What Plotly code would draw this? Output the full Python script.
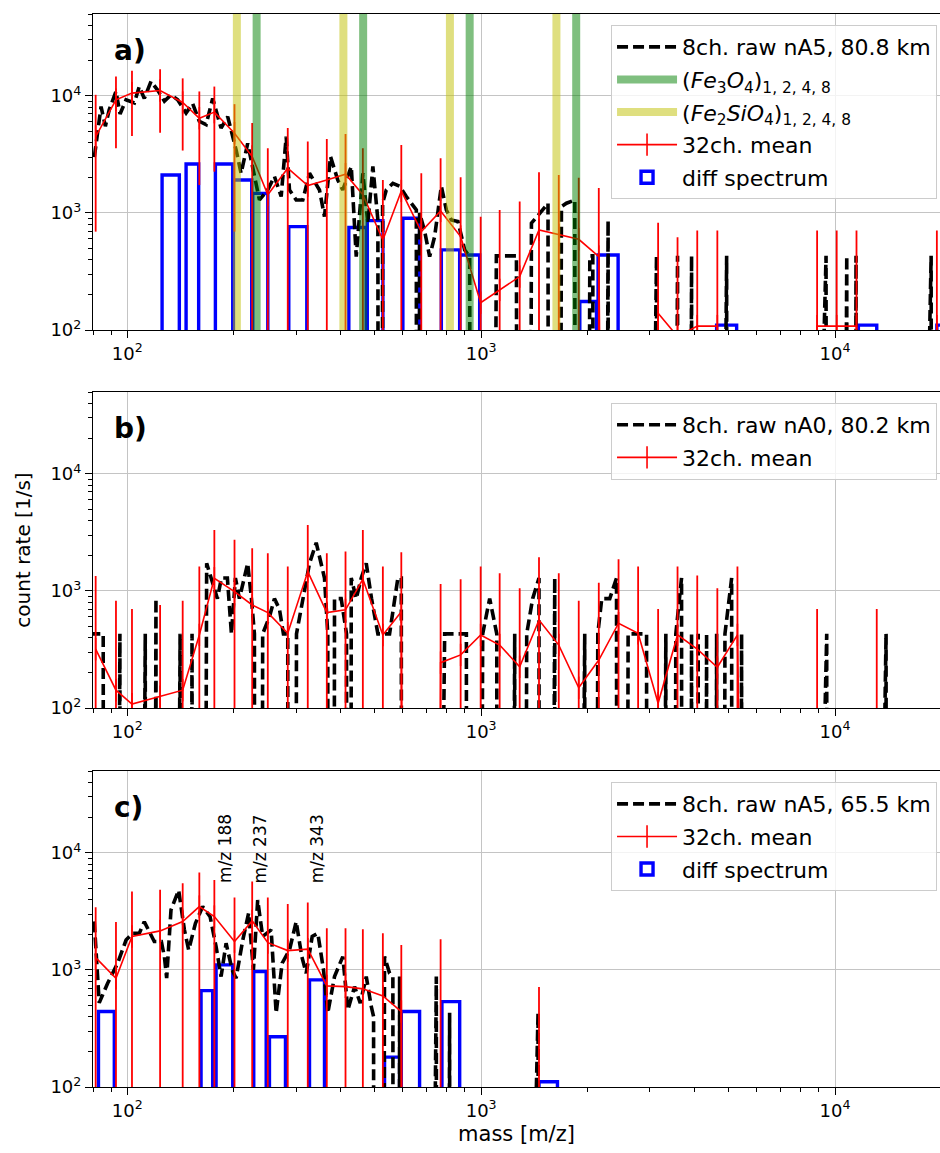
import math
import plotly.graph_objects as go

# ---------------- data ----------------
# 32-channel mean mass grid (m/z)
M32 = [81.4, 92.9, 103.1, 123.8, 143.4, 159.8, 176.2, 200.9, 225.4, 249.5, 284.1, 323.6,
       366.3, 413.7, 463.1, 527.5, 594.8, 677.4, 768.1, 875.0, 996.8, 1128, 1285, 1457,
       1657, 1887, 2150, 2445, 2777, 3163, 3589, 4080, 4650, 5300, 6045, 6878, 7800,
       8900, 10110, 11500, 13120, 14950, 17025, 19400]

# panel a: 32ch mean, upper and lower error limits (0 = below axis)
A_MEAN = [4490, 9250, 10550, 11100, 8770, 6440, 7260, 4800, 3030, 1430, 2410, 1710, 1910,
          2140, 1430, 587, 1540, 692, 1040, 628, 171, 220, 286, 716, 649, 595, 424, 0, 0,
          139, 88, 108, 108, 0, 0, 0, 0, 108, 108, 108, 0, 0, 0, 108]
A_HI = [10200, 14600, 16400, 16900, 14100, 10900, 12000, 8490, 5850, 3570, 5300, 4070, 4270,
        4730, 3570, 1910, 3810, 2180, 2930, 2020, 929, 1060, 1250, 2230, 2110, 2000, 1630, 0, 0,
        826, 619, 706, 706, 0, 0, 0, 0, 706, 706, 706, 0, 0, 0, 706]
A_LO = [692, 3570, 4550, 4850, 3410, 1730, 2250, 692] + [0] * 36

B_MEAN = [318, 142, 108, 125, 142, 421, 1283, 987, 759, 653, 435, 1462, 653, 689, 1259, 421,
          665, 0, 244, 284, 421, 345, 225, 565, 345, 149, 257, 530, 435, 110, 421, 318, 223,
          421, 0, 0, 0, 50, 0, 0, 50, 0, 0, 0]
B_HI = [1343, 826, 702, 759, 826, 1614, 3320, 2730, 2320, 2100, 1614, 3660, 2100, 2170, 3320,
        1614, 2140, 0, 1148, 1259, 1614, 1416, 1055, 1942, 1416, 826, 1177, 1866, 1614, 702,
        1614, 1352, 1055, 1614, 0, 0, 0, 702, 0, 0, 702, 0, 0, 0]
B_LO = [0] * 44

C_MEAN = [1274, 849, 1928, 2155, 2587, 3475, 2855, 1745, 2624, 1710, 1462, 1503, 731, 720, 689,
          600, 441, 0, 60, 0, 0, 0, 0, 60] + [0] * 20
C_HI = [3436, 2560, 4670, 4830, 5510, 6800, 5870, 4150, 5690, 4150, 3660, 3760, 2270, 2270,
        2230, 2060, 1636, 0, 1828, 0, 0, 0, 0, 713] + [0] * 20
C_LO = [0] * 44

# 8-channel raw spectra (mass, count rate; 0 = no counts)
RA_MASS = [80.7, 84.3, 86.7, 88.9, 92.9, 95.4, 99.2, 104.7, 108.1, 111.7, 116.7, 121.8, 127.3,
           132.9, 138.8, 146.6, 153.0, 159.8, 167.0, 174.3, 184.1, 192.2, 203.0, 209.7, 218.9,
           228.7, 236.3, 249.4, 260.5, 272.2, 281.2, 287.3, 300.1, 313.3, 327.3, 349.2, 360.8,
           375.2, 393.4, 406.4, 429.5, 443.6, 463.1, 478.5, 494.3, 510.7, 522.1, 526.6, 539.4,
           563.1, 588.3, 614.5, 634.8, 655.8, 662.8, 669.9, 692.1, 715.2, 738.8, 771.7, 797.3,
           823.6, 860.0, 898.3, 928.1, 958.6, 1104, 1186, 1258, 1302, 1387, 1464, 1545, 1579,
           1686, 1742, 1839, 1875, 2028, 2068, 2109, 2284, 2325, 3130, 3199, 3589, 3644, 3932,
           3992, 4940, 5015, 9433, 9619, 10794, 10957, 11466, 11693, 18690, 19060]
RA_RATE = [3000, 8100, 5500, 7600, 10900, 7000, 9250, 8700, 12000, 9500, 13300, 11200, 9000,
           10200, 9250, 7130, 8600, 6060, 5680, 9500, 5300, 6640, 3450, 2180, 3920, 1980, 1290,
           1570, 2050, 1380, 4480, 1570, 1290, 1290, 2180, 1570, 930, 3030, 1910, 1570, 2490,
           424, 2180, 817, 2490, 870, 0, 1210, 1570, 1790, 1690, 1380, 1210, 1060, 0, 1000, 700,
           424, 628, 1690, 1060, 870, 845, 483, 424, 0, 430, 430, 430, 0, 817, 990, 1210, 0,
           1130, 1210, 1290, 0, 430, 430, 0, 860, 0, 430, 0, 430, 0, 430, 0, 430, 0, 430, 0,
           430, 0, 430, 0, 430, 0]

RB_MASS = [78.1, 85.5, 86.7, 95.3, 96.8, 112.4, 113.9, 120.5, 122.4, 141.0, 143.0, 152.4, 154.7,
           167.6, 172.8, 179.7, 184.5, 191.8, 196.9, 202.1, 207.4, 214.3, 218.9, 224.3, 228.7,
           231.7, 241.3, 252.2, 260.5, 269.1, 276.2, 284.1, 288.2, 300.7, 313.3, 327.3, 341.9,
           351.6, 360.8, 368.6, 374.0, 385.1, 402.2, 416.4, 423.2, 429.4, 443.6, 458.3, 473.5,
           490.0, 510.7, 551.0, 569.3, 581.7, 594.8, 599.8, 788.6, 841.7, 908.3, 919.0, 1010,
           1057, 1107, 1117, 1244, 1256, 1345, 1398, 1457, 1472, 1614, 1630, 1962, 1982, 2136,
           2192, 2309, 2413, 2436, 2602, 2754, 2934, 2962, 3326, 3359, 3549, 3684, 3720, 3932,
           3971, 4105, 4145, 4336, 4378, 4628, 4673, 4886, 5104, 5152, 5445, 5499, 9474, 9568,
           13940, 14080]
RB_RATE = [430, 430, 0, 430, 0, 430, 0, 860, 0, 430, 0, 430, 0, 1720, 1290, 860, 1290, 1290,
           430, 1290, 860, 1290, 1720, 860, 430, 0, 430, 600, 860, 700, 430, 430, 0, 430, 860,
           1720, 2580, 1720, 1290, 430, 0, 860, 860, 430, 0, 1290, 860, 1290, 1720, 860, 430,
           430, 860, 1290, 1290, 0, 430, 430, 430, 0, 430, 860, 430, 0, 430, 0, 430, 860, 1290,
           0, 1290, 0, 430, 0, 430, 860, 860, 1290, 0, 430, 430, 430, 0, 430, 0, 430, 1290, 0,
           430, 0, 430, 0, 430, 0, 430, 0, 430, 1290, 0, 430, 0, 430, 0, 430, 0]

RC_MASS = [80.66, 83.3, 88.0, 93.9, 99.2, 103.5, 108.1, 111.7, 119.2, 124.8, 127.3, 129.2, 132.9,
           139.7, 145.0, 149.1, 155.8, 163.3, 171.4, 178.2, 184.1, 190.2, 197.8, 203.0, 212.0,
           220.3, 227.2, 233.6, 241.3, 255.0, 263.4, 273.9, 287.3, 300.1, 311.3, 320.3, 333.1,
           345.5, 358.5, 368.6, 385.1, 406.5, 420.1, 438.8, 455.4, 473.5, 489.3, 496.6, 502.9,
           533.3, 551.0, 563.0, 573.0, 588.2, 599.8, 746.9, 758.2, 814.5, 827.9, 1448, 1473]
RC_RATE = [2600, 523, 770, 1140, 1800, 2050, 2050, 2580, 1750, 1750, 1300, 850, 3260, 4800, 2200,
           1480, 2500, 3480, 2850, 1580, 877, 1690, 1000, 850, 1800, 3070, 1000, 3950, 1930, 2200,
           427, 1140, 1480, 2580, 1300, 935, 1930, 2050, 1000, 427, 877, 1300, 455, 720, 520, 877,
           485, 400, 0, 1300, 935, 877, 0, 877, 0, 877, 0, 430, 0, 430, 0]

# difference spectra (bin left edge, right edge, rate)
DA_LEFT = [125.4, 146.6, 177.4, 199.5, 226.2, 286.0, 422.7, 476.6, 600.9, 771.7, 869.6, 1900,
           2140, 4628, 11640, 19400]
DA_RIGHT = [140.3, 159.1, 198.6, 224.7, 249.5, 321.6, 473.5, 527.6, 669.9, 869.6, 990.4, 2118,
            2438, 5272, 13120, 22100]
DA_RATE = [2110, 2620, 2620, 1910, 1470, 763, 750, 860, 900, 483, 437, 175, 437, 110, 110, 110]

DC_LEFT = [82.9, 161.6, 178.2, 227.7, 252.2, 327.3, 533.3, 594.8, 774.7, 1457]
DC_RIGHT = [91.9, 174.3, 198.6, 246.9, 279.9, 360.8, 588.2, 669.9, 869.6, 1643]
DC_RATE = [441, 666, 1105, 968, 269, 822, 180, 441, 536, 111]

FE3O4 = [232, 464, 928, 1856]
FE2SIO4 = [204, 408, 816, 1632]

MZ_LABELS = [188, 237, 343]
MZ_LABEL_RATE = 5300

LEG_A = ["8ch. raw nA5, 80.8 km", "(<i>Fe</i><sub>3</sub><i>O</i><sub>4</sub>)<sub>1, 2, 4, 8</sub>",
         "(<i>Fe</i><sub>2</sub><i>SiO</i><sub>4</sub>)<sub>1, 2, 4, 8</sub>", "32ch. mean", "diff spectrum"]
LEG_B = "8ch. raw nA0, 80.2 km"
LEG_C = "8ch. raw nA5, 65.5 km"

# ---------------- helpers ----------------
FONT = "DejaVu Sans"
TINY = 1e-30  # stands in for zero counts on the log axis (clipped like matplotlib)


def nz(v):
    return [x if x > 0 else TINY for x in v]


def raw_trace(mass, rate, name, xa, ya, leg, grp):
    return go.Scatter(x=mass, y=nz(rate), mode="lines", name=name,
                      line=dict(color="black", width=3.6, dash="11px,5px"),
                      xaxis=xa, yaxis=ya, legend=leg, legendrank=1, legendgroup=grp + "raw",
                      cliponaxis=True)


def mean_trace(mean, hi, lo, xa, ya, leg, grp):
    y = nz(mean)
    plus = [(h - m) if (m > 0 and h > 0) else 0 for m, h in zip(mean, hi)]
    minus = [(m - (l if l > 0 else 1)) if m > 0 else 0 for m, l in zip(mean, lo)]
    return go.Scatter(x=M32, y=y, mode="lines+markers", name="32ch. mean",
                      line=dict(color="#ff0000", width=1.6),
                      marker=dict(symbol="line-ns-open", size=16,
                                  line=dict(color="#ff0000", width=1.6), color="#ff0000"),
                      error_y=dict(type="data", symmetric=False, array=plus, arrayminus=minus,
                                   color="#ff0000", thickness=1.8, width=0),
                      xaxis=xa, yaxis=ya, legend=leg, legendrank=4, legendgroup=grp + "mean",
                      cliponaxis=True)


def diff_shapes(left, right, rate, xa, ya, leg, grp):
    out = []
    for i, (l, r, h) in enumerate(zip(left, right, rate)):
        out.append(dict(type="rect", xref=xa, yref=ya, x0=l, x1=r, y0=1, y1=h,
                        line=dict(color="#0000ff", width=3.4), fillcolor="rgba(0,0,0,0)",
                        layer="between", showlegend=(i == 0), legend=leg, legendrank=5,
                        legendgroup=grp + "diff", name="diff spectrum"))
    return out


def band_trace(masses, color, name, rank, xa, ya, leg, grp):
    xs, ys = [], []
    for m in masses:
        xs += [m, m, None]
        ys += [1, 1e6, None]
    return go.Scatter(x=xs, y=ys, mode="lines", line=dict(color=color, width=8), name=name,
                      xaxis=xa, yaxis=ya, legend=leg, legendrank=rank, legendgroup=grp,
                      hoverinfo="skip")


fig = go.Figure()
# panel a
fig.add_trace(raw_trace(RA_MASS, RA_RATE, LEG_A[0], "x", "y", "legend", "a"))
fig.add_trace(mean_trace(A_MEAN, A_HI, A_LO, "x", "y", "legend", "a"))
fig.add_trace(band_trace(FE3O4, "rgba(0,128,0,0.5)", LEG_A[1], 2, "x", "y", "legend", "afe3"))
fig.add_trace(band_trace(FE2SIO4, "rgba(191,191,0,0.5)", LEG_A[2], 3, "x", "y", "legend", "afe2"))
# panel b
fig.add_trace(raw_trace(RB_MASS, RB_RATE, LEG_B, "x2", "y2", "legend2", "b"))
fig.add_trace(mean_trace(B_MEAN, B_HI, B_LO, "x2", "y2", "legend2", "b"))
# panel c
fig.add_trace(raw_trace(RC_MASS, RC_RATE, LEG_C, "x3", "y3", "legend3", "c"))
fig.add_trace(mean_trace(C_MEAN, C_HI, C_LO, "x3", "y3", "legend3", "c"))

shapes = (diff_shapes(DA_LEFT, DA_RIGHT, DA_RATE, "x", "y", "legend", "a")
          + diff_shapes(DC_LEFT, DC_RIGHT, DC_RATE, "x3", "y3", "legend3", "c"))

# ---------------- axes ----------------
minor_x = [k * 10 ** e for e in range(1, 5) for k in range(2, 10)]
minor_y = [k * 10 ** e for e in range(2, 5) for k in range(2, 10)]
tickfont = dict(family=FONT, size=18, color="black")

def xax(anchor, title=None):
    d = dict(type="log", range=[math.log10(80), math.log10(19800)], anchor=anchor,
             showline=True, linecolor="black", linewidth=1.2, mirror=True,
             ticks="outside", ticklen=7, tickwidth=1.2, tickcolor="black",
             tickvals=[100, 1000, 10000],
             ticktext=["10<sup>2</sup>", "10<sup>3</sup>", "10<sup>4</sup>"],
             showgrid=True, gridcolor="#c4c4c4", gridwidth=1, zeroline=False,
             tickfont=tickfont,
             minor=dict(ticks="outside", ticklen=4, tickwidth=1, tickcolor="black",
                        tickvals=minor_x, showgrid=False))
    if title:
        d["title"] = dict(text=title, font=dict(family=FONT, size=21, color="black"), standoff=6)
    return d

def yax(anchor, domain, title=None):
    d = dict(type="log", range=[2, math.log10(5e4)], anchor=anchor, domain=domain,
             showline=True, linecolor="black", linewidth=1.2, mirror=True,
             ticks="outside", ticklen=7, tickwidth=1.2, tickcolor="black",
             tickvals=[100, 1000, 10000],
             ticktext=["10<sup>2</sup>", "10<sup>3</sup>", "10<sup>4</sup>"],
             showgrid=True, gridcolor="#c4c4c4", gridwidth=1, zeroline=False,
             tickfont=tickfont,
             minor=dict(ticks="outside", ticklen=4, tickwidth=1, tickcolor="black",
                        tickvals=minor_y, showgrid=False))
    if title:
        d["title"] = dict(text=title, font=dict(family=FONT, size=20, color="black"), standoff=14)
    return d

legend_style = dict(font=dict(family=FONT, size=22, color="black"),
                    bgcolor="rgba(255,255,255,0.8)", bordercolor="#cccccc", borderwidth=1,
                    xref="paper", yref="paper", x=0.9965, xanchor="right", yanchor="top",
                    itemwidth=60, tracegroupgap=1, traceorder="grouped")

fig.update_layout(
    width=940, height=1153,
    margin=dict(l=93, r=0, t=14, b=66),
    paper_bgcolor="white", plot_bgcolor="white",
    font=dict(family=FONT, color="black"),
    xaxis=xax("y"), yaxis=yax("x", [0.7055, 1.0]),
    xaxis2=xax("y2"), yaxis2=yax("x2", [0.3532, 0.6477], "count rate [1/s]"),
    xaxis3=xax("y3", "mass [m/z]"), yaxis3=yax("x3", [0.0, 0.2945]),
    legend=dict(legend_style, y=0.9897),
    legend2=dict(legend_style, y=0.6375),
    legend3=dict(legend_style, y=0.2842),
    shapes=shapes,
)

# panel labels
for lab, xr, yr in [("a)", "x domain", "y domain"), ("b)", "x2 domain", "y2 domain"),
                    ("c)", "x3 domain", "y3 domain")]:
    fig.add_annotation(text="<b>" + lab + "</b>", xref=xr, yref=yr, x=0.022, y=0.885,
                       xanchor="left", yanchor="middle", showarrow=False,
                       font=dict(family=FONT, size=28, color="black"))

for mz in MZ_LABELS:
    fig.add_annotation(text="m/z " + str(mz), xref="x3", yref="y3", x=math.log10(mz),
                       y=math.log10(MZ_LABEL_RATE), textangle=-90, xanchor="center",
                       yanchor="bottom", showarrow=False,
                       font=dict(family=FONT, size=17, color="black"))

fig.write_html("out.html")
